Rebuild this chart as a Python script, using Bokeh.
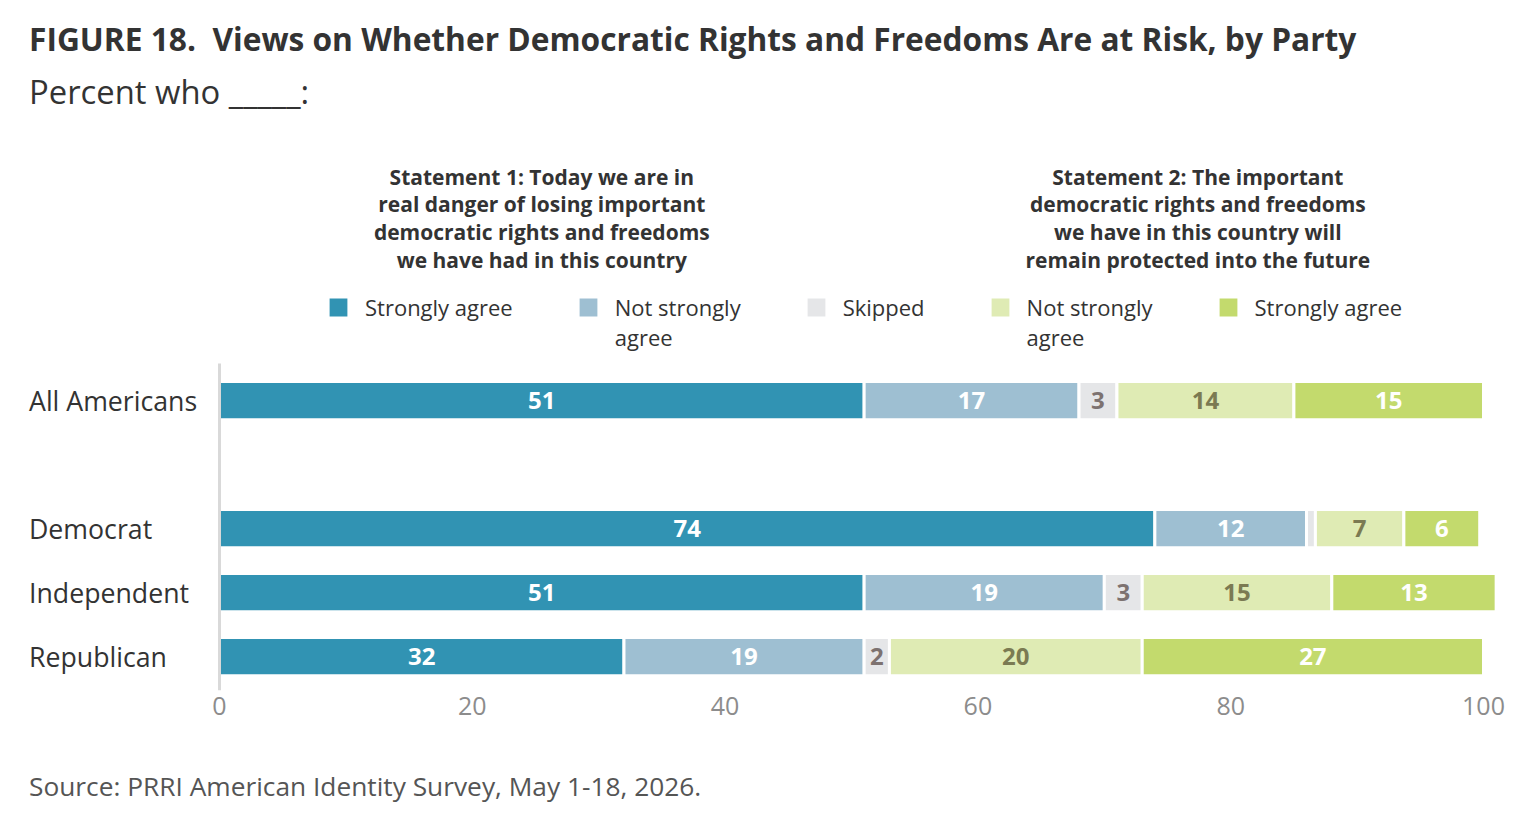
from bokeh.plotting import figure
from bokeh.layouts import column
from bokeh.models import Range1d, Label, LabelSet, ColumnDataSource, Legend, LegendItem, FixedTicker
from bokeh.core.properties import value
from bokeh.embed import file_html
from bokeh.resources import INLINE

FONT = "Open Sans"

# ---- data ----
categories = ["All Americans", "Democrat", "Independent", "Republican"]
cat_pos = [4, 2, 1, 0]
strongly_agree_1 = [51, 74, 51, 32]
not_strongly_1 = [17, 12, 19, 19]
skipped = [3, 0.7, 3, 2]
not_strongly_2 = [14, 7, 15, 20]
strongly_agree_2 = [15, 6, 13, 27]

series_keys = ["sa1", "ns1", "sk", "ns2", "sa2"]
series_values = [strongly_agree_1, not_strongly_1, skipped, not_strongly_2, strongly_agree_2]
# a leading empty line keeps the first text line level with the legend swatch
series_labels = ["Strongly agree", "\nNot strongly\nagree", "Skipped", "\nNot strongly\nagree", "Strongly agree"]
colors = ["#3193B3", "#9EBFD2", "#E5E6E8", "#DFEBB4", "#C3DA6D"]
label_colors = ["white", "white", "#7D7270", "#7B7A52", "white"]
x_ticks = [0, 20, 40, 60, 80, 100]

title_text = "FIGURE 18.\u00a0 Views on Whether Democratic Rights and Freedoms Are at Risk, by Party"
subtitle_text = "Percent who _____:"
header1 = "Statement 1: Today we are in\nreal danger of losing important\ndemocratic rights and freedoms\nwe have had in this country"
header2 = "Statement 2: The important\ndemocratic rights and freedoms\nwe have in this country will\nremain protected into the future"
source_text = "Source: PRRI American Identity Survey, May 1-18, 2026."

# ---- layout constants (pixels) ----
FRAME_H = 690
PX_PER_X = 12.64
X0_PX = 219.0
PX_PER_Y = 64.0
Y_BOTTOM = -0.53
W = 1530
H_MAIN = 740
H_FOOT = 78

p = figure(width=W, height=H_MAIN, output_backend="svg", toolbar_location=None,
           x_range=Range1d(-X0_PX / PX_PER_X, (W - X0_PX) / PX_PER_X),
           y_range=Range1d(Y_BOTTOM, Y_BOTTOM + FRAME_H / PX_PER_Y),
           min_border_left=0, min_border_right=0, min_border_top=0,
           min_border_bottom=H_MAIN - FRAME_H)
p.outline_line_color = None
p.xgrid.visible = False
p.ygrid.visible = False
p.background_fill_color = "white"
p.border_fill_color = "white"

data = {"pos": cat_pos, "cat": categories}
for k, v in zip(series_keys, series_values):
    data[k] = v
src = ColumnDataSource(data)

renderers = p.hbar_stack(series_keys, y="pos", height=0.6, source=src,
                         fill_color=colors, line_color="white", line_width=3)

# value labels
lx, ly, lt, lc = [], [], [], []
for i in range(len(categories)):
    left = 0
    for j, vals in enumerate(series_values):
        v = vals[i]
        if v >= 1.5:
            lx.append(left + v / 2)
            ly.append(cat_pos[i])
            lt.append(str(int(round(v))))
            lc.append(label_colors[j])
        left += v
p.text(x="x", y="y", text="text", text_color="color",
       source=ColumnDataSource(dict(x=lx, y=ly, text=lt, color=lc)),
       text_font=value(FONT), text_font_style="bold", text_font_size="24px",
       text_align="center", text_baseline="middle")

# category labels
p.add_layout(LabelSet(x=28.5, x_units="screen", y="pos", text="cat", source=src,
                      text_font=value(FONT), text_font_size="26.7px", text_color="#333333",
                      text_align="left", text_baseline="middle"))

# axes
xa = p.xaxis[0]
xa.ticker = FixedTicker(ticks=x_ticks)
xa.axis_line_color = None
xa.major_tick_line_color = None
xa.minor_tick_line_color = None
xa.major_tick_out = 0
xa.major_tick_in = 0
xa.major_label_standoff = 6
xa.major_label_text_font = FONT
xa.major_label_text_font_size = "25px"
xa.major_label_text_color = "#8C8C8C"

ya = p.yaxis[0]
ya.ticker = FixedTicker(ticks=[])
ya.major_tick_line_color = None
ya.minor_tick_line_color = None
ya.major_tick_out = 0
ya.major_tick_in = 0
ya.major_label_standoff = 0
ya.major_label_text_font_size = "0px"
ya.axis_line_color = "#D9D9D9"
ya.axis_line_width = 3
ya.fixed_location = 0
ya.bounds = (Y_BOTTOM, 4.58)

# titles
p.add_layout(Label(x=28.5, y=FRAME_H - 38, x_units="screen", y_units="screen", text=title_text,
                   text_font=FONT, text_font_style="bold", text_font_size="31.7px",
                   text_color="#333333", text_baseline="middle", text_align="left"))
p.add_layout(Label(x=28.5, y=FRAME_H - 91, x_units="screen", y_units="screen", text=subtitle_text,
                   text_font=FONT, text_font_size="32.8px",
                   text_color="#333333", text_baseline="middle", text_align="left"))

# statement headers
for hx, ht in [(25.5, header1), (77.4, header2)]:
    p.add_layout(Label(x=hx, y=FRAME_H - 162, x_units="data", y_units="screen", text=ht,
                       text_font=FONT, text_font_style="bold", text_font_size="21px",
                       text_color="#333333", text_baseline="top", text_align="center",
                       text_line_height=0.99))

# legend
items = [LegendItem(label=lab, renderers=[r]) for lab, r in zip(series_labels, renderers)]
legend = Legend(items=items, orientation="horizontal", location=(325, FRAME_H - 352),
                glyph_width=26, glyph_height=26, label_standoff=14, spacing=62,
                padding=0, margin=0, border_line_color=None, background_fill_alpha=0,
                label_text_font=FONT, label_text_font_size="22px", label_text_color="#333333")
p.add_layout(legend)

# footer with the source note
foot = figure(width=W, height=H_FOOT, output_backend="svg", toolbar_location=None,
              x_range=Range1d(0, 1), y_range=Range1d(0, 1),
              x_axis_location=None, y_axis_location=None,
              min_border_left=0, min_border_right=0, min_border_top=0, min_border_bottom=0)
foot.outline_line_color = None
foot.xgrid.visible = False
foot.ygrid.visible = False
foot.add_layout(Label(x=28.5, y=H_FOOT - 45, x_units="screen", y_units="screen", text=source_text,
                      text_font=FONT, text_font_size="26.3px",
                      text_color="#555555", text_baseline="middle", text_align="left"))

layout = column(p, foot, spacing=0)
open("out.html", "w").write(file_html(layout, INLINE))
